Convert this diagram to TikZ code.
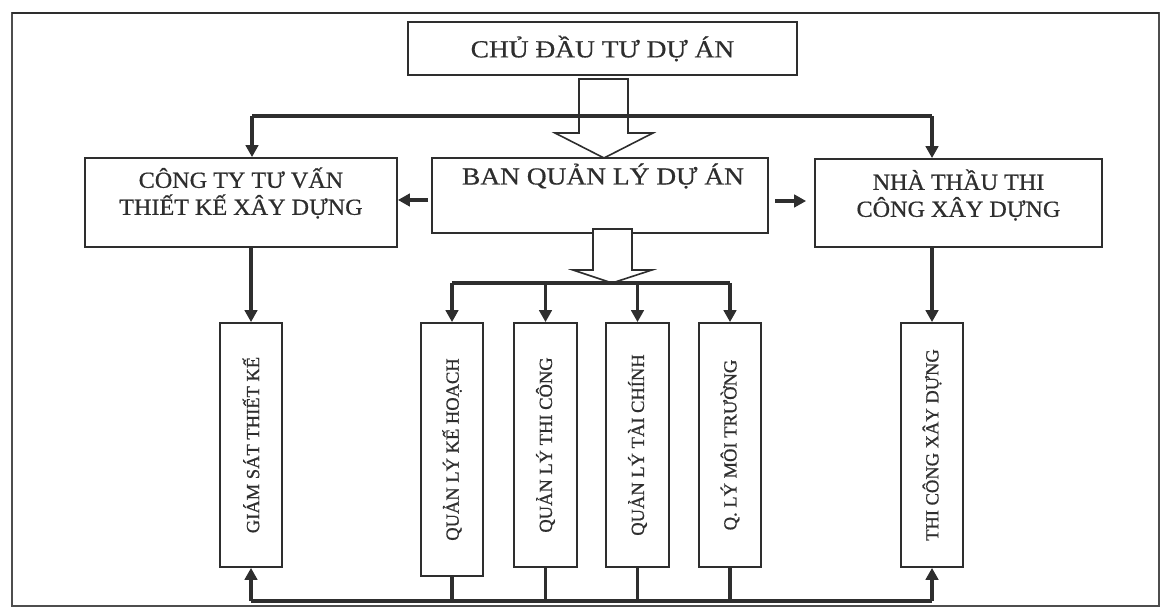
\documentclass[tikz,border=0pt]{standalone}
\usepackage{fontspec}
\setmainfont{Liberation Serif}
\newfontfamily\widefont[FakeStretch=1.12,FakeBold=0.6]{Liberation Serif}
\newfontfamily\sidefont[FakeStretch=1.05,FakeBold=0.6]{Liberation Serif}
\newfontfamily\vertfont[FakeBold=0.8]{Liberation Serif}
\usetikzlibrary{arrows.meta}
\definecolor{ink}{HTML}{2E2E2E}
\tikzset{
  box/.style={draw=ink, line width=1.8pt, fill=white, inner sep=0pt, text=ink},
  bigtext/.style={text=ink, font=\widefont\fontsize{24.5}{27}\selectfont},
  sidetext/.style={text=ink, align=center, font=\sidefont\fontsize{23}{27}\selectfont},
  vbox/.style={box, font=\vertfont\fontsize{18.5}{20}\selectfont, rotate=90},
  conn/.style={draw=ink, line width=3.2pt},
  arr/.style={conn, -{Triangle[length=12pt,width=12.5pt]}},
  hollow/.style={draw=ink, line width=1.6pt, fill=white, line join=miter},
}
\begin{document}
\begin{tikzpicture}[x=1pt,y=-1pt]
\useasboundingbox (0,0) rectangle (1162,609);
% outer frame
\draw[ink!85, line width=1.6pt] (12,13) rectangle (1159,606);
\draw[ink, line width=2.4pt] (12,13) -- (1159,13);

% main boxes
\node[box, bigtext, minimum width=389pt, minimum height=53pt] (cdt) at (602.5,48.5) {CHỦ ĐẦU TƯ DỰ ÁN};
\node[box, minimum width=336pt, minimum height=75pt] (bql) at (600,195.5) {};
\node[bigtext] (bqltext) at (603,176) {BAN QUẢN LÝ DỰ ÁN};
\node[box, minimum width=312pt, minimum height=89pt] (cty) at (241,202.5) {};
\node[sidetext] (ctytext) at (241,193) {CÔNG TY TƯ VẤN\\THIẾT KẾ XÂY DỰNG};
\node[box, minimum width=287pt, minimum height=88pt] (nt) at (958.5,203) {};
\node[sidetext] (nttext) at (958.5,195) {NHÀ THẦU THI\\CÔNG XÂY DỰNG};

% vertical boxes
\node[vbox, minimum width=244pt, minimum height=62pt] (gs) at (251,445) {GIÁM SÁT THIẾT KẾ};
\node[vbox, minimum width=253pt, minimum height=62pt] (kh) at (452,449.5) {QUẢN LÝ KẾ HOẠCH};
\node[vbox, minimum width=244pt, minimum height=63pt] (tc) at (545.5,445) {QUẢN LÝ THI CÔNG};
\node[vbox, minimum width=244pt, minimum height=63pt] (tch) at (637.5,445) {QUẢN LÝ TÀI CHÍNH};
\node[vbox, minimum width=244pt, minimum height=62pt] (mt) at (730,445) {Q. LÝ MÔI TRƯỜNG};
\node[vbox, minimum width=244pt, minimum height=62pt] (tcxd) at (932,445) {THI CÔNG XÂY DỰNG};

% hollow arrow from owner to project board
\draw[hollow] (579,79) -- (579,133) -- (555,133) -- (604,158) -- (653,133) -- (628,133) -- (628,79) -- cycle;
% hollow arrow from project board to departments
\draw[hollow] (593,229) -- (593,270) -- (573,270) -- (612,283) -- (652,270) -- (632,270) -- (632,229) -- cycle;

% top distribution line
\coordinate (tl) at (252,116);
\coordinate (tr) at (932,116);
\draw[conn] (tl) -- (tr);
\draw[arr] (tl) -- (tl |- cty.north);
\draw[arr] (tr) -- (tr |- nt.north);

% side arrows from BQL
\coordinate (bql-l) at (428,200);
\coordinate (bql-r) at (775,201);
\draw[arr] (bql-l) -- (cty.east |- bql-l);
\draw[arr] (bql-r) -- ([xshift=-8pt]nt.west |- bql-r);

% department distribution line
\coordinate (dl) at (452,283);
\coordinate (dr) at (730,283);
\draw[conn] (dl) -- (dr);
\draw[arr] (dl) -- (kh.east);
\draw[arr] (tc.east |- dl) -- (tc.east);
\draw[arr] (tch.east |- dl) -- (tch.east);
\draw[arr] (dr) -- (mt.east);

% down from side boxes
\draw[arr] (cty.south -| gs.east) -- (gs.east);
\draw[arr] (nt.south -| tcxd.east) -- (tcxd.east);

% bottom feedback line
\coordinate (bl) at (251,601);
\coordinate (br) at (932,601);
\draw[conn] (bl) -- (br);
\draw[arr] (bl) -- (gs.west);
\draw[arr] (br) -- (tcxd.west);
\draw[conn] (kh.west) -- (kh.west |- bl);
\draw[conn] (tc.west) -- (tc.west |- bl);
\draw[conn] (tch.west) -- (tch.west |- bl);
\draw[conn] (mt.west) -- (mt.west |- bl);
\end{tikzpicture}
\end{document}
